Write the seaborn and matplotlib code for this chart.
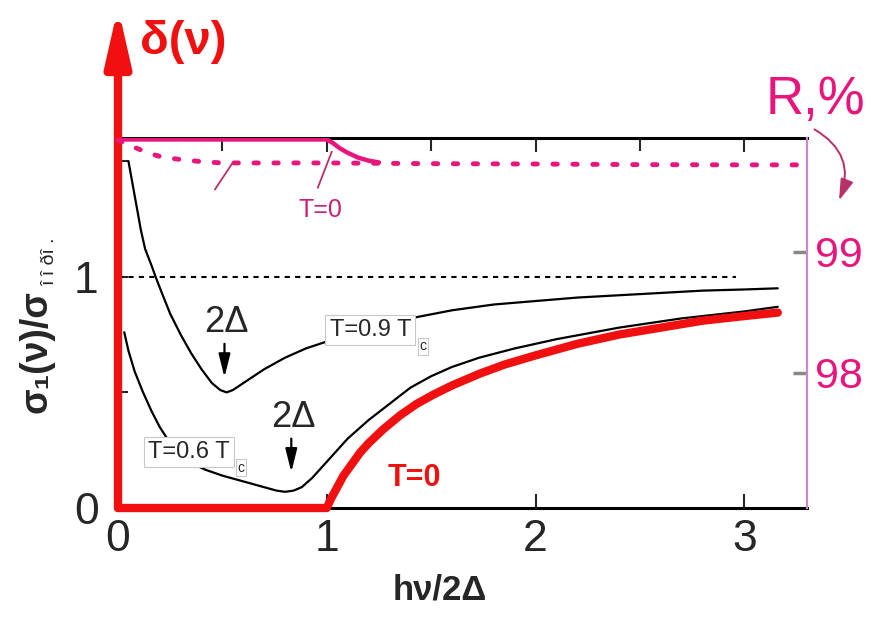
import numpy as np
import pandas as pd
import matplotlib
matplotlib.use("Agg")
import matplotlib.pyplot as plt
import seaborn as sns
from matplotlib import font_manager
from matplotlib.ticker import MultipleLocator
from matplotlib.patches import FancyArrowPatch

# ---------------- data ----------------
# T = 0.9 Tc  (sigma1/sigma_n)
x_t09 = [0.05, 0.07, 0.09, 0.11, 0.13, 0.16, 0.18, 0.21, 0.25, 0.30, 0.35, 0.40, 0.45, 0.49, 0.52,
         0.55, 0.60, 0.70, 0.80, 0.90, 1.0, 1.1, 1.2, 1.3, 1.4, 1.6, 1.8, 2.0, 2.2, 2.4, 2.6, 2.8, 3.0, 3.16]
y_t09 = [1.50, 1.40, 1.30, 1.20, 1.12, 1.05, 1.00, 0.93, 0.84, 0.75, 0.67, 0.60, 0.54, 0.51, 0.50,
         0.51, 0.54, 0.60, 0.65, 0.69, 0.72, 0.755, 0.78, 0.80, 0.82, 0.855, 0.88, 0.895, 0.91, 0.92, 0.93, 0.94, 0.945, 0.95]
# T = 0.6 Tc
x_t06 = [0.03, 0.05, 0.08, 0.12, 0.16, 0.20, 0.25, 0.30, 0.36, 0.42, 0.50, 0.60, 0.70, 0.76, 0.80,
         0.84, 0.88, 0.93, 1.0, 1.1, 1.2, 1.3, 1.4, 1.5, 1.6, 1.73, 1.9, 2.1, 2.4, 2.7, 3.0, 3.16]
y_t06 = [0.76, 0.68, 0.59, 0.50, 0.42, 0.35, 0.28, 0.23, 0.19, 0.165, 0.14, 0.115, 0.09, 0.075, 0.07,
         0.075, 0.09, 0.13, 0.20, 0.30, 0.38, 0.45, 0.52, 0.57, 0.61, 0.65, 0.69, 0.73, 0.78, 0.82, 0.85, 0.87]
# T = 0 (red): delta-function base then the rising branch
x_t0 = [0.0, 1.0, 1.02, 1.05, 1.08, 1.12, 1.16, 1.2, 1.27, 1.35, 1.43, 1.51, 1.6, 1.73, 1.85, 2.0,
        2.2, 2.4, 2.6, 2.8, 3.0, 3.16]
y_t0 = [0.0, 0.0, 0.04, 0.09, 0.14, 0.19, 0.24, 0.28, 0.34, 0.40, 0.45, 0.49, 0.53, 0.58, 0.62, 0.66,
        0.71, 0.75, 0.78, 0.81, 0.83, 0.845]
# normal-state level
x_norm = [0.0, 2.96]
y_norm = [1.0, 1.0]
# reflectance R, %  (right axis)
x_R_t0 = [0.0, 0.5, 1.0, 1.03, 1.06, 1.1, 1.15, 1.2, 1.25]
y_R_t0 = [99.93, 99.93, 99.93, 99.90, 99.86, 99.82, 99.78, 99.755, 99.74]
x_R_dot = [0.0, 0.05, 0.1, 0.15, 0.2, 0.25, 0.32, 0.41, 0.5, 1.0, 1.5, 2.0, 2.5, 3.0, 3.3]
y_R_dot = [99.925, 99.884, 99.85, 99.815, 99.79, 99.775, 99.76, 99.745, 99.736, 99.736, 99.73,
           99.727, 99.722, 99.72, 99.72]

x_ticks = [0, 1, 2, 3]
y_ticks = [0, 1]
r_ticks = [98, 99]

# ---------------- style ----------------
sns.set_style("white")
names = {f.name for f in font_manager.fontManager.ttflist}
NARROW = "Liberation Sans Narrow" if "Liberation Sans Narrow" in names else "Liberation Sans"
FAM = [NARROW, "Liberation Sans", "DejaVu Sans"]
plt.rcParams["font.family"] = FAM

PINK = "#e8157c"
PINK2 = "#c8207a"
PTR = "#b83068"
RED = "#f01010"

fig = plt.figure(figsize=(8.83, 6.28), dpi=100)
L, R_, B, T = 118 / 883, 807 / 883, 1 - 508 / 628, 1 - 138 / 628
ax = fig.add_axes([L, B, R_ - L, T - B])
ax.set_xlim(0, 3.3)
ax.set_ylim(0, 1.6)

for s in ["left", "bottom", "top"]:
    ax.spines[s].set_color("black")
    ax.spines[s].set_linewidth(2.2)
ax.spines["right"].set_visible(False)

ax.set_xticks(x_ticks)
ax.set_yticks(y_ticks)
ax.xaxis.set_minor_locator(MultipleLocator(0.5))
ax.yaxis.set_minor_locator(MultipleLocator(0.5))
ax.tick_params(which="major", axis="x", direction="in", length=10, width=1.5,
               top=True, bottom=True, labelsize=32, pad=8)
ax.tick_params(which="minor", axis="x", direction="in", length=9, width=1.5,
               top=True, bottom=False)
ax.tick_params(which="major", axis="y", direction="in", length=7, width=1.5,
               left=True, right=False, labelsize=32, pad=14)
ax.tick_params(which="minor", axis="y", direction="in", length=7, width=1.5,
               left=True, right=False)

line_kw = dict(estimator=None, sort=False, solid_joinstyle="round", solid_capstyle="round")
# black curves
sns.lineplot(x=x_t09, y=y_t09, ax=ax, color="black", lw=1.6, zorder=3, **line_kw)
sns.lineplot(x=x_t06, y=y_t06, ax=ax, color="black", lw=1.6, zorder=3, **line_kw)
sns.lineplot(x=x_norm, y=y_norm, ax=ax, color="black", lw=1.5, estimator=None, sort=False,
             linestyle=(0, (2.5, 2.5)), zorder=3)
# red T=0
sns.lineplot(x=x_t0, y=y_t0, ax=ax, color=RED, lw=6, zorder=4, clip_on=False, **line_kw)
# red delta function arrow
ax.annotate("", xy=(0, 2.165), xytext=(0, 0), xycoords="data", textcoords="data",
            annotation_clip=False,
            arrowprops=dict(arrowstyle="-|>,head_length=3.3,head_width=0.75", lw=6, color=RED,
                            shrinkA=0, shrinkB=0, mutation_scale=10), zorder=5)

ax.set_xlabel("")
ax.set_ylabel("")

# labels inside
box = dict(boxstyle="square,pad=0.18", fc="white", ec="#c8c8c8", lw=0.8)
boxc = dict(boxstyle="square,pad=0.1", fc="white", ec="#c8c8c8", lw=0.8)
ax.text(1.014, 0.77, "T=0.9 T", fontsize=17, ha="left", va="center", bbox=box, zorder=6)
ax.text(1.46, 0.700, "c", fontsize=10, ha="center", va="center", bbox=boxc, zorder=6)
ax.text(0.144, 0.242, "T=0.6 T", fontsize=17, ha="left", va="center", bbox=box, zorder=6)
ax.text(0.59, 0.175, "c", fontsize=10, ha="center", va="center", bbox=boxc, zorder=6)

ax.text(1.42, 0.13, "T=0", fontsize=22, fontweight="bold", color=RED, ha="center", va="center", zorder=6)

arrow_k = dict(arrowstyle="-|>,head_length=1.4,head_width=0.35", lw=1.6, color="black",
               shrinkA=0, shrinkB=0, mutation_scale=10)
ax.text(0.52, 0.80, "2Δ", fontsize=26, ha="center", va="center", zorder=6)
ax.annotate("", xy=(0.51, 0.565), xytext=(0.51, 0.71), arrowprops=arrow_k, zorder=6)
ax.text(0.84, 0.39, "2Δ", fontsize=26, ha="center", va="center", zorder=6)
ax.annotate("", xy=(0.83, 0.155), xytext=(0.83, 0.30), arrowprops=arrow_k, zorder=6)

# ---------------- right axis (R, %) ----------------
axR = ax.twinx()
axR.set_ylim(96.884, 99.942)
axR.set_xlim(0, 3.3)
for s in ["left", "top", "bottom"]:
    axR.spines[s].set_visible(False)
axR.spines["right"].set_color("#cc88cc")
axR.spines["right"].set_linewidth(1.6)
axR.set_yticks(r_ticks)
axR.tick_params(axis="y", direction="in", length=10, width=2.5, color="#888888",
                labelcolor=PINK, labelsize=31, pad=6)

sns.lineplot(x=x_R_dot, y=y_R_dot, ax=axR, color=PINK, lw=3.5, estimator=None, sort=False,
             linestyle=(0, (0.9, 3.2)), dash_capstyle="round", zorder=4, clip_on=False)
sns.lineplot(x=x_R_t0, y=y_R_t0, ax=axR, color=PINK, lw=3.2, zorder=4, **line_kw)
axR.set_ylabel("")

# pointer lines to the two R curves
ax.plot([0.464, 0.55], [1.377, 1.494], color=PTR, lw=1.3, zorder=5)
ax.plot([0.957, 1.024], [1.385, 1.541], color=PTR, lw=1.3, zorder=5)
ax.text(0.97, 1.29, "T=0", fontsize=18, color=PINK2, ha="center", va="center", zorder=6)

# ---------------- figure texts ----------------
fig.text(140 / 883, 1 - 42 / 628, "δ(ν)", fontsize=34, color=RED, fontweight="bold",
         ha="left", va="center")
fig.text(815 / 883, 1 - 100 / 628, "R,%", fontsize=38, color=PINK, ha="center", va="center")
fig.patches.append(FancyArrowPatch(
    (812 / 883, 1 - 128 / 628), (838 / 883, 1 - 203 / 628), transform=fig.transFigure,
    connectionstyle="arc3,rad=-0.45", arrowstyle="-|>,head_length=1.3,head_width=0.4",
    mutation_scale=10, lw=1.4, color=PTR, figure=fig))

fig.text(440 / 883, 1 - 590 / 628, "hν/2Δ", fontsize=25, fontweight="bold", ha="center", va="center")
fig.text(37 / 883, 1 - 352 / 628, "σ₁(ν)/σ", fontsize=27, fontweight="bold", rotation=90,
         ha="center", va="center", family=FAM)
fig.text(50 / 883, 1 - 262 / 628, "î î ðî .", fontsize=14, rotation=90,
         ha="center", va="center", family=FAM)

fig.savefig("out.png", dpi=100)
